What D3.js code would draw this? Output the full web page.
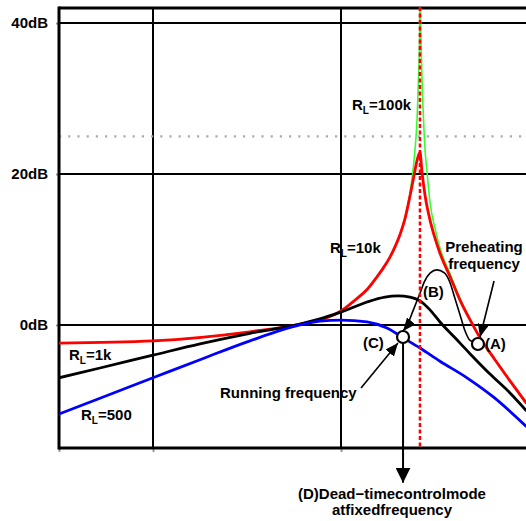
<!DOCTYPE html>
<html>
<head>
<meta charset="utf-8">
<script src="https://cdn.jsdelivr.net/npm/d3@7"></script>
<style>
  html, body { margin: 0; padding: 0; background: #fff; }
  svg { display: block; font-family: "Liberation Sans", Arial, sans-serif; font-weight: bold; }
</style>
</head>
<body>
<svg id="chart" width="526" height="521"></svg>
<script>
// Gain of the resonant output stage versus switching frequency, for several lamp loads R_L.

// Axis ticks
const freqTicks = [0, 1, 3, 5];
const gainTicks = [0, 20, 40];
const gainTickLabels = ["0dB", "20dB", "40dB"];
const gainRefLevel = 25;          // dotted reference level
const resonanceFreq = 3.84;       // dashed resonance marker

// R_L = 100k (nearly unloaded)
const rl100kFreq = [0, 1.0, 2.03, 2.564, 3.0, 3.149, 3.277, 3.372, 3.447, 3.521, 3.574, 3.628, 3.681, 3.734, 3.766, 3.787, 3.809, 3.824, 3.835, 3.84, 3.851, 3.862, 3.878, 3.894, 3.915, 3.947, 4.0, 4.053, 4.16, 4.266, 4.372, 4.479, 4.638, 4.798, 4.968];
const rl100kGain = [-2.4, -2.1, -0.9, 0.1, 1.85, 3.3, 4.7, 6.2, 7.5, 9.0, 10.35, 12.0, 14.2, 17.5, 20.5, 23.2, 27.2, 32.5, 37.7, 46, 37.7, 32.5, 27.2, 23.2, 20.3, 16.2, 12.8, 10.2, 6.8, 3.5, 0.8, -1.7, -4.6, -7.4, -10.3];

// R_L = 10k
const rl10kFreq = [0, 1.0, 2.03, 2.564, 3.0, 3.149, 3.277, 3.372, 3.447, 3.521, 3.574, 3.628, 3.681, 3.734, 3.777, 3.809, 3.84, 3.862, 3.894, 3.947, 4.0, 4.053, 4.16, 4.266, 4.372, 4.479, 4.638, 4.798, 4.968];
const rl10kGain = [-2.4, -2.1, -0.9, 0.1, 1.85, 3.3, 4.7, 6.2, 7.5, 9.0, 10.35, 12.0, 14.1, 17.1, 19.8, 21.8, 22.9, 20.2, 17.2, 13.9, 11.5, 9.5, 6.4, 3.3, 0.7, -1.7, -4.6, -7.4, -10.3];

// R_L = 1k
const rl1kFreq = [0, 0.436, 1.0, 1.5, 2.032, 2.564, 3.0, 3.277, 3.468, 3.606, 3.734, 3.84, 3.947, 4.053, 4.213, 4.372, 4.585, 4.798, 4.968];
const rl1kGain = [-7.0, -5.7, -4.0, -2.5, -1.1, 0.1, 1.7, 3.05, 3.7, 3.85, 3.7, 3.2, 2.0, 0.4, -1.7, -3.8, -6.5, -9.0, -11.3];

// R_L = 500
const rl500Freq = [0, 0.436, 1.0, 1.5, 2.032, 2.564, 2.777, 3.0, 3.277, 3.489, 3.66, 3.84, 4.053, 4.34, 4.617, 4.968];
const rl500Gain = [-11.8, -9.7, -7.0, -4.6, -2.1, 0.0, 0.5, 0.65, 0.4, -0.4, -1.7, -3.05, -4.8, -7.0, -9.5, -13.4];

// Operating point path from preheating (A) through (B) to running (C)
const pathFreq = [3.66, 3.70, 3.77, 3.84, 3.89, 3.95, 4.02, 4.10, 4.16, 4.21, 4.27, 4.32, 4.37, 4.46];
const pathGain = [-0.8, -0.1, 2.0, 4.2, 5.8, 6.9, 7.3, 6.9, 5.6, 3.6, 1.2, -0.8, -2.0, -2.5];

// Operating points
const pointA = { f: 4.457, g: -2.52 };
const pointC = { f: 3.66, g: -1.59 };

const svg = d3.select("#chart");
const plot = { left: 59, top: 8, right: 529, bottom: 448 };

const x = d3.scaleLinear().domain([0, 5]).range([plot.left, plot.right]);
const y = d3.scaleLinear().domain([-16.3, 42]).range([plot.bottom, plot.top]);

const defs = svg.append("defs");
defs.append("clipPath").attr("id", "plotClip")
  .append("rect")
  .attr("x", plot.left).attr("y", plot.top)
  .attr("width", plot.right - plot.left).attr("height", plot.bottom - plot.top);

function arrowMarker(id, len, wid) {
  defs.append("marker")
    .attr("id", id)
    .attr("markerUnits", "userSpaceOnUse")
    .attr("viewBox", `0 ${-wid / 2} ${len} ${wid}`)
    .attr("refX", len).attr("refY", 0)
    .attr("markerWidth", len).attr("markerHeight", wid)
    .attr("orient", "auto-start-reverse")
    .append("path")
    .attr("d", `M0,${-wid / 2}L${len},0L0,${wid / 2}Z`)
    .attr("fill", "#000");
}
arrowMarker("arrowBig", 15, 15);
arrowMarker("arrowMid", 13, 11);

// Axes: gray ticks, bold labels
const yAxis = svg.append("g")
  .attr("transform", `translate(${plot.left},0)`)
  .call(d3.axisLeft(y).tickValues(gainTicks).tickSize(3).tickPadding(8)
    .tickFormat((d, i) => gainTickLabels[i]));
yAxis.select(".domain").remove();
yAxis.selectAll(".tick line").attr("stroke", "#999").attr("stroke-width", 2);
yAxis.selectAll(".tick text")
  .attr("fill", "#000").attr("font-size", 15).attr("font-weight", "bold")
  .attr("font-family", "Liberation Sans, Arial, sans-serif");

const xAxis = svg.append("g")
  .attr("transform", `translate(0,${plot.bottom})`)
  .call(d3.axisBottom(x).tickValues(freqTicks).tickSize(4).tickFormat(""));
xAxis.select(".domain").remove();
xAxis.selectAll(".tick line").attr("stroke", "#999").attr("stroke-width", 2);

// Grid
const grid = svg.append("g");
grid.selectAll("line.hg").data(gainTicks).join("line")
  .attr("x1", plot.left).attr("x2", plot.right)
  .attr("y1", d => y(d)).attr("y2", d => y(d))
  .attr("stroke", "#000").attr("stroke-width", 2);
grid.selectAll("line.vg").data(freqTicks.filter(d => d > 0 && d < 5)).join("line")
  .attr("x1", d => x(d)).attr("x2", d => x(d))
  .attr("y1", plot.top).attr("y2", plot.bottom)
  .attr("stroke", "#000").attr("stroke-width", 2);
grid.append("line")
  .attr("x1", plot.left).attr("x2", plot.right)
  .attr("y1", y(gainRefLevel)).attr("y2", y(gainRefLevel))
  .attr("stroke", "#aaa").attr("stroke-width", 2.2)
  .attr("stroke-dasharray", "2.2,7");

// Frame
const frame = svg.append("g").attr("fill", "none").attr("stroke", "#000").attr("stroke-width", 3);
frame.append("line").attr("x1", plot.left).attr("x2", plot.left).attr("y1", plot.top - 1.5).attr("y2", plot.bottom + 1.5);
frame.append("line").attr("x1", plot.left).attr("x2", plot.right).attr("y1", plot.top).attr("y2", plot.top);
frame.append("line").attr("x1", plot.left).attr("x2", plot.right).attr("y1", plot.bottom).attr("y2", plot.bottom);

// Curves
const line = d3.line().x(d => x(d[0])).y(d => y(d[1])).curve(d3.curveMonotoneX);
const zip = (a, b) => a.map((v, i) => [v, b[i]]);

const curves = svg.append("g").attr("clip-path", "url(#plotClip)").attr("fill", "none")
  .attr("stroke-linejoin", "round").attr("stroke-linecap", "round");
curves.append("path").attr("d", line(zip(rl100kFreq, rl100kGain)))
  .attr("stroke", "#33ff33").attr("stroke-width", 1.6);
curves.append("path").attr("d", line(zip(rl10kFreq, rl10kGain)))
  .attr("stroke", "#ff0000").attr("stroke-width", 2.8);
curves.append("path").attr("d", line(zip(rl1kFreq, rl1kGain)))
  .attr("stroke", "#000").attr("stroke-width", 2.8);
curves.append("path").attr("d", line(zip(rl500Freq, rl500Gain)))
  .attr("stroke", "#0000ff").attr("stroke-width", 2.8);

// Transition path with arrow into (C)
svg.append("path").attr("d", line(zip(pathFreq, pathGain)))
  .attr("fill", "none").attr("stroke", "#000").attr("stroke-width", 1.6)
  .attr("marker-start", "url(#arrowMid)");

// Resonance marker
svg.append("line")
  .attr("x1", x(resonanceFreq)).attr("x2", x(resonanceFreq))
  .attr("y1", plot.top - 1).attr("y2", plot.bottom)
  .attr("stroke", "#ff0000").attr("stroke-width", 2.5)
  .attr("stroke-dasharray", "4,2.5");

// Annotation arrows
function arrow(f1, g1, f2, g2, marker, w) {
  svg.append("line")
    .attr("x1", x(f1)).attr("y1", y(g1)).attr("x2", x(f2)).attr("y2", y(g2))
    .attr("stroke", "#000").attr("stroke-width", w)
    .attr("marker-end", `url(#${marker})`);
}
arrow(4.628, 5.83, 4.479, -1.6, "arrowMid", 1.6);      // preheating -> (A)
arrow(3.213, -8.34, 3.606, -2.4, "arrowMid", 1.6);     // running -> (C)
arrow(pointC.f, pointC.g, pointC.f, -20.9, "arrowBig", 2); // (C) -> (D)

// Operating points
svg.selectAll("circle.op").data([pointA, pointC]).join("circle")
  .attr("cx", d => x(d.f)).attr("cy", d => y(d.g)).attr("r", 6)
  .attr("fill", "#fff").attr("stroke", "#000").attr("stroke-width", 2.2);

// Labels
const txt = svg.append("g").attr("font-size", 15).attr("fill", "#000");
function rlLabel(px, py, value) {
  const t = txt.append("text").attr("x", px).attr("y", py);
  t.append("tspan").text("R");
  t.append("tspan").attr("font-size", 10).attr("dy", 4).text("L");
  t.append("tspan").attr("dy", -4).text("=" + value);
}
rlLabel(352, 110, "100k");
rlLabel(330, 253, "10k");
rlLabel(69, 360, "1k");
rlLabel(81, 420, "500");

txt.append("text").attr("x", 484).attr("y", 252).attr("text-anchor", "middle").text("Preheating");
txt.append("text").attr("x", 484).attr("y", 269).attr("text-anchor", "middle").text("frequency");
txt.append("text").attr("x", 485).attr("y", 349).text("(A)");
txt.append("text").attr("x", 423).attr("y", 297).text("(B)");
txt.append("text").attr("x", 363).attr("y", 348).text("(C)");
txt.append("text").attr("x", 220).attr("y", 398).text("Running frequency");
txt.append("text").attr("x", 392).attr("y", 499).attr("text-anchor", "middle").text("(D)Dead\u2212timecontrolmode");
txt.append("text").attr("x", 392).attr("y", 515).attr("text-anchor", "middle").text("atfixedfrequency");
</script>
</body>
</html>
